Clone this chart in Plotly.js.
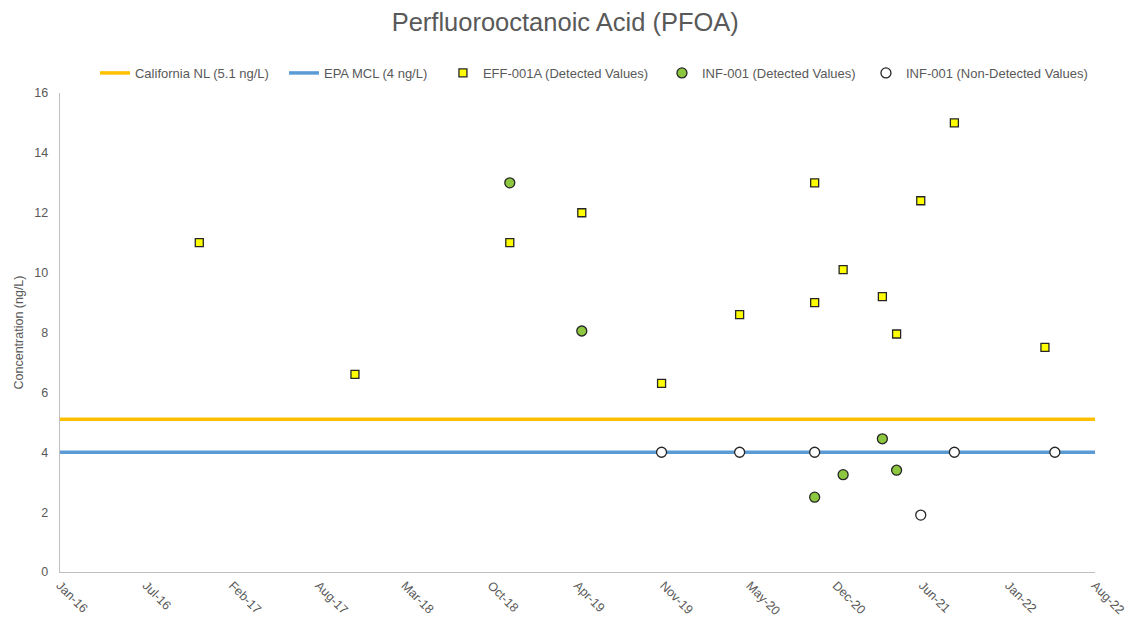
<!DOCTYPE html>
<html>
<head>
<meta charset="utf-8">
<script src="https://cdn.plot.ly/plotly-3.0.1.min.js"></script>
<style>html,body{margin:0;padding:0;background:#fff;}#chart{width:1126px;height:623px;}</style>
</head>
<body>
<div id="chart"></div>
<script>
// Reference limits (ng/L)
const californiaNL = 5.1;
const epaMCL = 4;

// EFF-001A detected values
const effDates = ['2016-11-24','2017-11-20','2018-11-14','2019-04-30','2019-11-01','2020-04-30','2020-10-21','2020-10-21','2020-12-26','2021-03-27','2021-04-29','2021-06-24','2021-09-10','2022-04-08'];
const effValues = [11, 6.6, 11, 12, 6.3, 8.6, 13, 9, 10.1, 9.2, 7.95, 12.4, 15, 7.5];

// INF-001 detected values
const infDetDates = ['2018-11-14','2019-04-30','2020-10-21','2020-12-26','2021-03-27','2021-04-29'];
const infDetValues = [13, 8.05, 2.5, 3.25, 4.45, 3.4];

// INF-001 non-detected values
const infNDDates = ['2019-11-01','2020-04-30','2020-10-21','2021-06-24','2021-09-10','2022-05-01'];
const infNDValues = [4, 4, 4, 1.9, 4, 4];

// Axis
const axisStart = '2016-01-06';
const axisEnd = '2022-08-02 02:00';
const yTicks = [0, 2, 4, 6, 8, 10, 12, 14, 16];

const grey = '#595959';
const traces = [
  {x: [axisStart, axisEnd], y: [californiaNL, californiaNL], mode: 'lines', name: 'California NL (5.1 ng/L)',
   line: {color: '#FFC000', width: 3.5}, hoverinfo: 'skip', legend: 'legend'},
  {x: [axisStart, axisEnd], y: [epaMCL, epaMCL], mode: 'lines', name: 'EPA MCL (4 ng/L)',
   line: {color: '#5B9BD5', width: 3.5}, hoverinfo: 'skip', legend: 'legend2'},
  {x: effDates, y: effValues, mode: 'markers', name: 'EFF-001A (Detected Values)', legend: 'legend3',
   marker: {symbol: 'square', size: 8, color: '#FFFF00', line: {color: '#262626', width: 1.3}}},
  {x: infDetDates, y: infDetValues, mode: 'markers', name: 'INF-001 (Detected Values)', legend: 'legend4',
   marker: {symbol: 'circle', size: 10, color: '#8DC63F', line: {color: '#262626', width: 1.3}}},
  {x: infNDDates, y: infNDValues, mode: 'markers', name: 'INF-001 (Non-Detected Values)', legend: 'legend5',
   marker: {symbol: 'circle', size: 10, color: '#FFFFFF', line: {color: '#262626', width: 1.3}}}
];

function leg(x) {
  return {orientation: 'h', x: x, xanchor: 'left', y: 1.0418, yanchor: 'middle',
          font: {size: 13, color: grey}, itemwidth: 30, bgcolor: 'rgba(0,0,0,0)', borderwidth: 0};
}

const layout = {
  width: 1126, height: 623,
  paper_bgcolor: '#fff', plot_bgcolor: '#fff',
  font: {family: 'Liberation Sans, Arial, sans-serif', color: grey, size: 12},
  margin: {l: 60, r: 31, t: 93, b: 51},
  title: {text: 'Perfluorooctanoic Acid (PFOA)', font: {size: 25.5, color: grey}, x: 0.502, xanchor: 'center', y: 0.965, yanchor: 'middle'},
  showlegend: true,
  legend: leg(0.0338),
  legend2: leg(0.2164),
  legend3: leg(0.3700),
  legend4: leg(0.5816),
  legend5: leg(0.7787),
  xaxis: {type: 'date', range: [axisStart, axisEnd], tick0: axisStart, dtick: 200 * 86400000,
          tickformat: '%b-%y', tickangle: 45, showgrid: false, zeroline: false,
          showline: true, linecolor: '#BFBFBF', linewidth: 1.3, ticks: '', automargin: false,
          ticklabeloverflow: 'allow', tickfont: {size: 12.5, color: grey}},
  yaxis: {range: [0, 16], tickvals: yTicks, showgrid: false, zeroline: false,
          showline: true, linecolor: '#BFBFBF', linewidth: 1.3, ticks: '', automargin: false,
          ticklabelstandoff: 8,
          title: {text: 'Concentration (ng/L)', font: {size: 12.5, color: grey}, standoff: 8},
          tickfont: {size: 12.5, color: grey}}
};

Plotly.newPlot('chart', traces, layout, {displayModeBar: false, staticPlot: true});
</script>
</body>
</html>
